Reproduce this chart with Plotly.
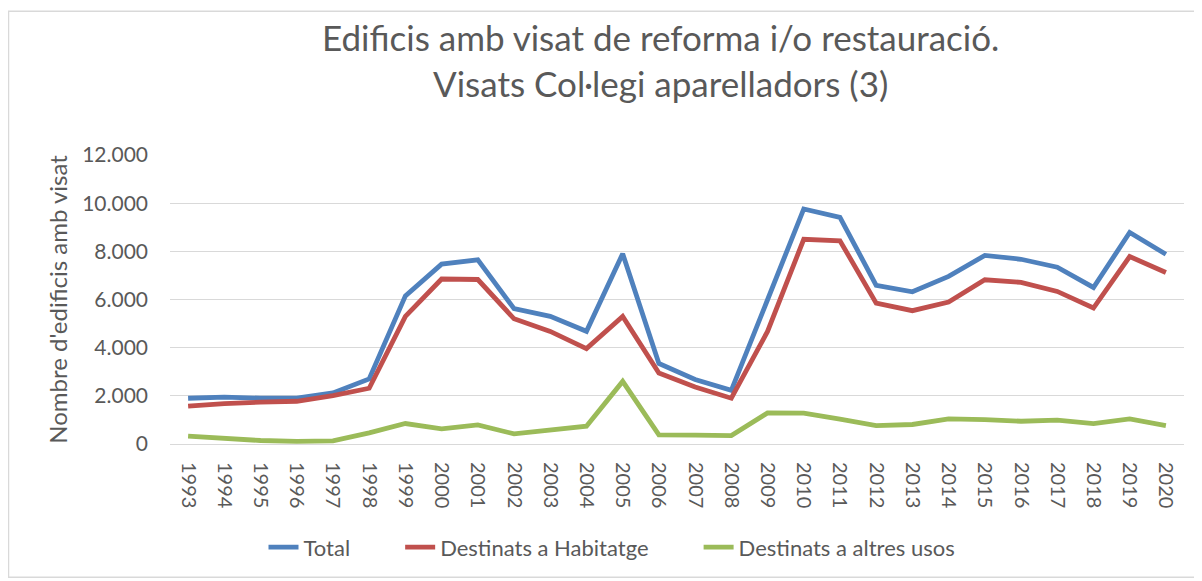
import plotly.graph_objects as go

years = [str(y) for y in range(1993, 2021)]
total = [1900, 1950, 1900, 1900, 2120, 2700, 6150, 7470, 7650, 5620, 5300, 4680, 7900, 3340, 2680, 2230,
         5990, 9760, 9410, 6590, 6320, 6960, 7830, 7670, 7340, 6500, 8780, 7880]
habitatge = [1570, 1680, 1735, 1775, 2010, 2315, 5300, 6850, 6830, 5200, 4675, 3960, 5300, 2950, 2370, 1900,
             4675, 8500, 8440, 5850, 5535, 5895, 6820, 6710, 6335, 5645, 7785, 7120]
altres = [325, 230, 145, 105, 130, 465, 850, 630, 795, 420, 600, 740, 2600, 380, 365, 350,
          1290, 1280, 1030, 765, 810, 1045, 1015, 945, 990, 850, 1045, 765]

names = ["Total", "Destinats a Habitatge", "Destinats a altres usos"]
colors = ["#4F81BD", "#C0504D", "#9BBB59"]
series = [total, habitatge, altres]

FONT = "Lato"
TXT = "#595959"
PAD = "\u00a0" * 8

fig = go.Figure()
for i, (n, c, s) in enumerate(zip(names, colors, series)):
    label = n + (PAD if i < len(names) - 1 else "")
    fig.add_trace(go.Scatter(x=years, y=s, name=label, mode="lines",
                             line=dict(color=c, width=4.8)))

# page has an 8px body margin: figure starts at (8, 8)
OFF = 8
W, H = 1202 - OFF, 581 - OFF
# targets in page pixels
PL, PR, PT, PB = 170, 1184, 155, 444.5
L, R, T, B = PL - OFF, W - (PR - OFF), PT - OFF, H - (PB - OFF)
pw, ph = W - L - R, H - T - B


def px(x):
    return (x - PL) / pw


def py(y):
    return (PB - y) / ph


fig.update_layout(
    width=W, height=H,
    margin=dict(l=L, r=R, t=T, b=B, autoexpand=False),
    paper_bgcolor="white", plot_bgcolor="white",
    font=dict(family=FONT, color=TXT),
    xaxis=dict(type="category", range=[-0.5, 27.5], tickangle=90, automargin=False,
               tickfont=dict(size=20, color=TXT), showgrid=False, ticklabelstandoff=17,
               showline=False, ticks="", zeroline=False),
    yaxis=dict(range=[0, 12000], tickvals=[0, 2000, 4000, 6000, 8000, 10000, 12000],
               ticktext=["0", "2.000", "4.000", "6.000", "8.000", "10.000", "12.000"],
               automargin=False,
               tickfont=dict(size=21, color=TXT), gridcolor="#D9D9D9", gridwidth=1.3,
               zeroline=True, zerolinecolor="#D9D9D9", zerolinewidth=1.3,
               showline=False, ticks="", ticklabelstandoff=21,
               title=dict(text="Nombre d'edificis amb visat", font=dict(size=24, color=TXT), standoff=7)),
    legend=dict(orientation="h", x=px(612), xanchor="center",
                y=py(548), yanchor="middle",
                font=dict(size=22, color=TXT)),
    annotations=[dict(text="Edificis amb visat de reforma i/o restauració.<br>Visats Col·legi aparelladors (3)",
                      xref="paper", yref="paper", x=px(660), y=py(14), xanchor="center", yanchor="top",
                      showarrow=False, font=dict(size=35, color=TXT, family=FONT))],
    shapes=[dict(type="rect", xref="paper", yref="paper",
                 x0=px(8.5), x1=px(1197), y0=py(578), y1=py(11),
                 line=dict(color="#D9D9D9", width=1.5), fillcolor="rgba(0,0,0,0)")],
)

fig.write_html("out.html")
